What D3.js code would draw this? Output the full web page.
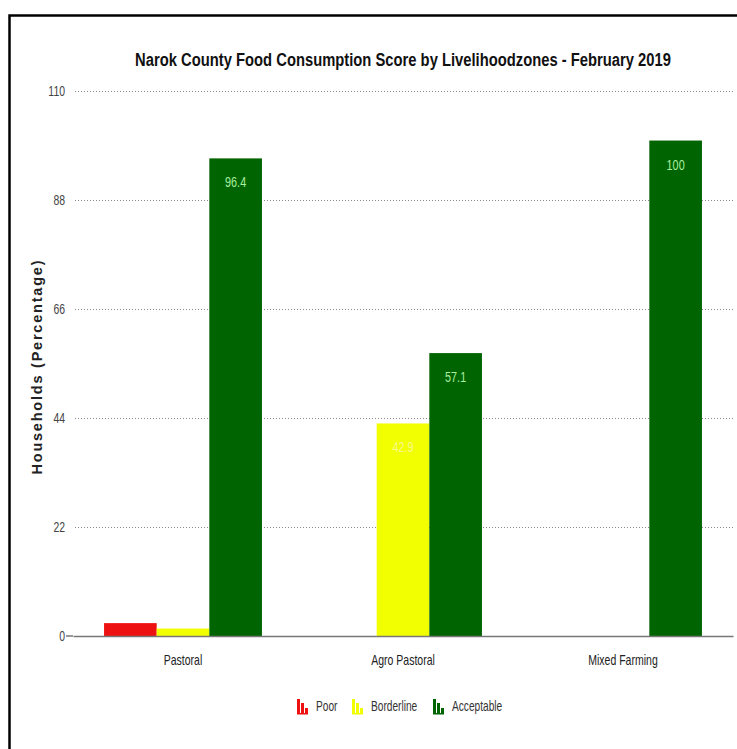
<!DOCTYPE html>
<html>
<head>
<meta charset="utf-8">
<script src="https://cdn.jsdelivr.net/npm/d3@7"></script>
<style>
  html, body { margin: 0; padding: 0; background: #fff; }
  svg { display: block; }
  text { font-family: "Liberation Sans", Arial, sans-serif; }
</style>
</head>
<body>
<svg id="chart" width="737" height="749"></svg>
<script>
// Food consumption score shares (% of households) per livelihood zone
const zones = ["Pastoral", "Agro Pastoral", "Mixed Farming"];
const groups = ["Poor", "Borderline", "Acceptable"];
const poor = [2.6, 0, 0];
const borderline = [1.5, 42.9, 0];
const acceptable = [96.4, 57.1, 100];
const yTicks = [0, 22, 44, 66, 88, 110];

const colors = { Poor: "#ee1111", Borderline: "#f2ff00", Acceptable: "#006400" };
const labelColors = { Poor: "#ffc0c0", Borderline: "#f8fb8c", Acceptable: "#a8f0a0" };
const seriesValues = { Poor: poor, Borderline: borderline, Acceptable: acceptable };

const plot = { left: 73, right: 733, top: 91, bottom: 636 };

const svg = d3.select("#chart");

// squeeze a text element horizontally to give a condensed face
function condense(sel, k) {
  sel.each(function () {
    const len = this.getComputedTextLength();
    d3.select(this).attr("textLength", len * k).attr("lengthAdjust", "spacingAndGlyphs");
  });
}

// outer frame
svg.append("rect")
  .attr("x", 9.5).attr("y", 15.5)
  .attr("width", 800).attr("height", 800)
  .attr("fill", "none").attr("stroke", "#000").attr("stroke-width", 2.5);

const x0 = d3.scaleBand().domain(zones).range([plot.left, plot.right]).padding(0);
const x1 = d3.scaleBand().domain(groups).range([0, x0.bandwidth()]).paddingInner(0).paddingOuter(0.59);
const y = d3.scaleLinear().domain([0, 110]).range([plot.bottom, plot.top]);

// dotted horizontal gridlines
svg.append("g")
  .selectAll("line")
  .data(yTicks.filter(t => t > 0))
  .join("line")
  .attr("x1", plot.left + 2).attr("x2", plot.right)
  .attr("y1", d => Math.round(y(d)) + 0.5).attr("y2", d => Math.round(y(d)) + 0.5)
  .attr("stroke", "#8a8a8a").attr("stroke-width", 1).attr("stroke-dasharray", "1,2");

// y axis labels
const yAxis = d3.axisLeft(y).tickValues(yTicks).tickSize(0).tickPadding(8);
const gy = svg.append("g").attr("transform", `translate(${plot.left},0)`).call(yAxis);
gy.select(".domain").remove();
gy.selectAll("text").attr("font-size", 14.5).attr("fill", "#444").call(condense, 0.72);

// bars
const barData = [];
zones.forEach((z, i) => groups.forEach(g => barData.push({ zone: z, group: g, value: seriesValues[g][i] })));

const bars = svg.append("g");
bars.selectAll("rect")
  .data(barData.filter(d => d.value > 0))
  .join("rect")
  .attr("x", d => x0(d.zone) + x1(d.group))
  .attr("y", d => y(d.value))
  .attr("width", x1.bandwidth())
  .attr("height", d => y(0) - y(d.value))
  .attr("fill", d => colors[d.group]);

// value labels inside the taller bars
bars.selectAll("text")
  .data(barData.filter(d => d.value > 10))
  .join("text")
  .attr("x", d => x0(d.zone) + x1(d.group) + x1.bandwidth() / 2)
  .attr("y", d => y(d.value) + 29)
  .attr("text-anchor", "middle")
  .attr("font-size", 15)
  .attr("fill", d => labelColors[d.group])
  .text(d => d.value)
  .call(condense, 0.72);

// x axis
const xAxis = d3.axisBottom(x0).tickSize(0).tickPadding(18);
const gx = svg.append("g").attr("transform", `translate(0,${plot.bottom})`).call(xAxis);
gx.select(".domain").attr("stroke", "#777").attr("stroke-width", 1.5);
gx.selectAll("text").attr("font-size", 15).attr("fill", "#222").call(condense, 0.7);
svg.append("line")
  .attr("x1", plot.left - 7).attr("x2", plot.left)
  .attr("y1", plot.bottom).attr("y2", plot.bottom)
  .attr("stroke", "#777").attr("stroke-width", 1.5);

// title, drawn at natural width and scaled horizontally into a condensed line
const titleG = svg.append("g");
const title = titleG.append("text")
  .attr("x", 0)
  .attr("y", 0)
  .attr("text-anchor", "middle")
  .attr("font-size", 17.5)
  .attr("font-weight", "bold")
  .attr("fill", "#111")
  .text("Narok County Food Consumption Score by Livelihoodzones - February 2019");
const titleK = 536 / title.node().getComputedTextLength();
titleG.attr("transform", `translate(${(plot.left + plot.right) / 2},66) scale(${titleK},1)`);

// y axis title
svg.append("text")
  .attr("transform", `translate(42,${(plot.top + plot.bottom) / 2 + 4}) rotate(-90)`)
  .attr("text-anchor", "middle")
  .attr("font-size", 14.5)
  .attr("font-weight", "bold")
  .attr("fill", "#222")
  .text("Households (Percentage)")
  .attr("textLength", 214)
  .attr("lengthAdjust", "spacing");

// legend with small bar-chart glyphs
const legendX = [297, 352, 433];
const legend = svg.append("g").attr("transform", "translate(0,706)");
groups.forEach((g, i) => {
  const item = legend.append("g").attr("transform", `translate(${legendX[i]},0)`);
  const glyph = [[0, 14], [4, 10], [8, 5]];
  glyph.forEach(([dx, h]) => {
    item.append("rect").attr("x", dx).attr("y", 7 - h).attr("width", 3).attr("height", h).attr("fill", colors[g]);
  });
  item.append("rect").attr("x", 0).attr("y", 7).attr("width", 11).attr("height", 1.5).attr("fill", colors[g]);
  item.append("text")
    .attr("x", 19).attr("y", 5)
    .attr("font-size", 14.5)
    .attr("fill", "#333")
    .text(g)
    .call(condense, 0.7);
});
</script>
</body>
</html>
